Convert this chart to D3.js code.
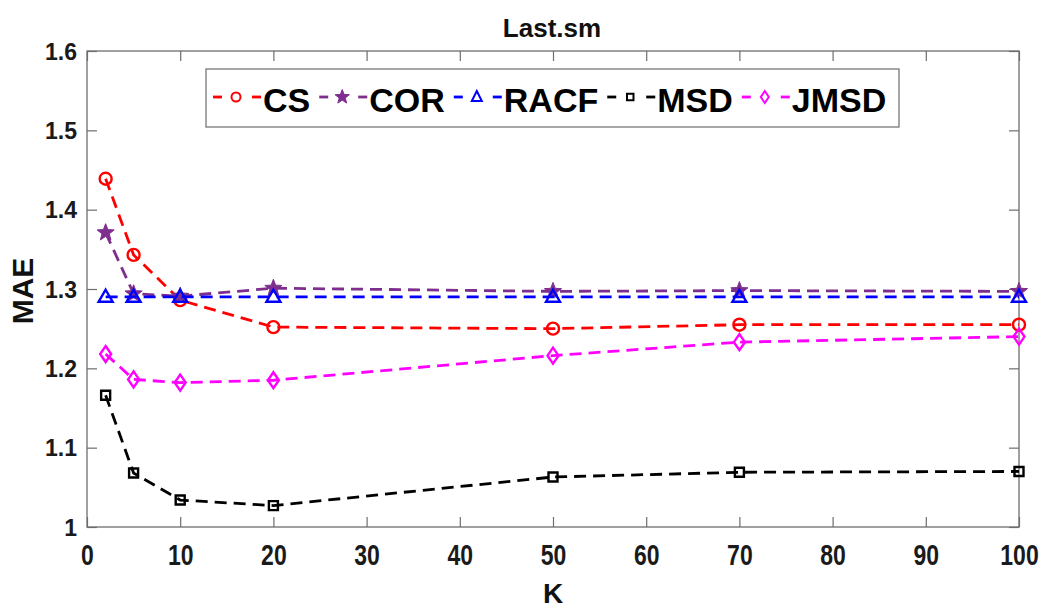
<!DOCTYPE html>
<html><head><meta charset="utf-8">
<script src="https://cdn.jsdelivr.net/npm/d3@7"></script>
<style>body{margin:0;background:#fff;} svg{display:block;}</style>
</head><body>
<svg id="c" width="1042" height="611"></svg>
<script>
const kValues = [2, 5, 10, 20, 50, 70, 100];
const csValues   = [1.439, 1.343, 1.286, 1.252, 1.250, 1.255, 1.255];
const corValues  = [1.371, 1.294, 1.291, 1.301, 1.297, 1.298, 1.297];
const racfValues = [1.290, 1.290, 1.290, 1.290, 1.290, 1.290, 1.290];
const msdValues  = [1.166, 1.068, 1.034, 1.027, 1.063, 1.069, 1.070];
const jmsdValues = [1.218, 1.186, 1.182, 1.185, 1.216, 1.233, 1.240];
const seriesNames = ["CS", "COR", "RACF", "MSD", "JMSD"];
const xTicks = [0,10,20,30,40,50,60,70,80,90,100];
const yTicks = [1,1.1,1.2,1.3,1.4,1.5,1.6];
const titleText = "Last.sm", xLabel = "K", yLabel = "MAE";

const series = [
  {name: seriesNames[0], values: csValues,   color: "#FF0000", marker: "circle"},
  {name: seriesNames[1], values: corValues,  color: "#7E2F8E", marker: "star"},
  {name: seriesNames[2], values: racfValues, color: "#0000FF", marker: "triangle"},
  {name: seriesNames[3], values: msdValues,  color: "#000000", marker: "square"},
  {name: seriesNames[4], values: jmsdValues, color: "#FF00FF", marker: "diamond"}
];

const svg = d3.select("#c");
const L = 87, R = 1019, T = 51, B = 527;
const x = d3.scaleLinear().domain([0, 100]).range([L, R]);
const y = d3.scaleLinear().domain([1, 1.6]).range([B, T]);
const font = "'Liberation Sans', Arial, Helvetica, sans-serif";
const axisColor = "#6e6e6e";

function styleAxis(g){ g.select(".domain").remove(); g.selectAll("line").attr("stroke", axisColor).attr("stroke-width",1.2); }
svg.append("g").attr("transform",`translate(0,${B})`)
  .call(d3.axisBottom(x).tickValues(xTicks).tickSize(-10).tickFormat(d3.format("d")))
  .call(styleAxis)
  .call(g => g.selectAll("text").attr("y",0).attr("dy",null)
     .attr("transform","translate(0,30) scale(1,1.25)")
     .attr("dominant-baseline","middle")
     .attr("font-family",font).attr("font-weight","bold").attr("font-size",23).attr("fill","#1a1a1a"));
svg.append("g").attr("transform",`translate(0,${T})`)
  .call(d3.axisTop(x).tickValues(xTicks).tickSize(-10).tickFormat(""))
  .call(styleAxis);
svg.append("g").attr("transform",`translate(${L},0)`)
  .call(d3.axisLeft(y).tickValues(yTicks).tickSize(-10).tickFormat(d => d3.format("")(+d.toFixed(1))))
  .call(styleAxis)
  .call(g => g.selectAll("text").attr("x",-10).attr("dy","0.36em")
     .attr("font-family",font).attr("font-weight","bold").attr("font-size",23).attr("fill","#1a1a1a"));
svg.append("g").attr("transform",`translate(${R},0)`)
  .call(d3.axisRight(y).tickValues(yTicks).tickSize(-10).tickFormat(""))
  .call(styleAxis);
svg.append("rect").attr("x",L).attr("y",T).attr("width",R-L).attr("height",B-T)
  .attr("fill","none").attr("stroke",axisColor).attr("stroke-width",1.3);

svg.append("text").attr("x",552).attr("y",37).attr("text-anchor","middle")
  .attr("font-family",font).attr("font-weight","bold").attr("font-size",26).attr("fill","#111").text(titleText);
svg.append("text").attr("x",553).attr("y",603).attr("text-anchor","middle")
  .attr("font-family",font).attr("font-weight","bold").attr("font-size",28).attr("fill","#111").text(xLabel);
svg.append("text").attr("transform","translate(33,291) rotate(-90)").attr("text-anchor","middle")
  .attr("font-family",font).attr("font-weight","bold").attr("font-size",30).attr("fill","#111").text(yLabel);

function markerPath(type, s){
  const p = d3.path();
  if(type==="circle"){ p.arc(0,0,s.r,0,2*Math.PI); }
  else if(type==="star"){
    for(let i=0;i<10;i++){ const rr = i%2===0 ? s.R : s.R*0.42; const a = -Math.PI/2 + i*Math.PI/5;
      const px = rr*Math.cos(a), py = rr*Math.sin(a); i===0?p.moveTo(px,py):p.lineTo(px,py); }
    p.closePath();
  } else if(type==="triangle"){ p.moveTo(0,-s.h*0.6); p.lineTo(s.w/2,s.h*0.4); p.lineTo(-s.w/2,s.h*0.4); p.closePath(); }
  else if(type==="square"){ p.rect(-s.a/2,-s.a/2,s.a,s.a); }
  else if(type==="diamond"){ p.moveTo(0,-s.h/2); p.lineTo(s.w/2,0); p.lineTo(0,s.h/2); p.lineTo(-s.w/2,0); p.closePath(); }
  return p.toString();
}
const bigSize = {circle:{r:6}, star:{R:9}, triangle:{w:14,h:12}, square:{a:9}, diamond:{w:11,h:16}};
const smallSize = {circle:{r:4.5}, star:{R:7.5}, triangle:{w:10,h:10}, square:{a:6.5}, diamond:{w:8,h:12}};

function drawMarker(g, type, color, size, sw){
  g.append("path").attr("d", markerPath(type,size))
    .attr("fill", type==="star" ? color : "none")
    .attr("stroke", color).attr("stroke-width", type==="star"?1:sw).attr("stroke-linejoin","miter");
}

const line = d3.line().x(d => x(d[0])).y(d => y(d[1]));
series.forEach(s => {
  const pts = kValues.map((k,i) => [k, s.values[i]]);
  svg.append("path").attr("d", line(pts)).attr("fill","none").attr("stroke", s.color)
    .attr("stroke-width",2.8).attr("stroke-dasharray","12,7");
  pts.forEach(p => {
    const g = svg.append("g").attr("transform",`translate(${x(p[0])},${y(p[1])})`);
    drawMarker(g, s.marker, s.color, bigSize[s.marker], 2.4);
  });
});

const leg = svg.append("g");
leg.append("rect").attr("x",206).attr("y",69).attr("width",693).attr("height",58)
  .attr("fill","#fff").attr("stroke","#777").attr("stroke-width",1.3);
let cx = 213;
series.forEach(s => {
  leg.append("line").attr("x1",cx).attr("x2",cx+9).attr("y1",97).attr("y2",97).attr("stroke",s.color).attr("stroke-width",2.8);
  leg.append("line").attr("x1",cx+39).attr("x2",cx+48).attr("y1",97).attr("y2",97).attr("stroke",s.color).attr("stroke-width",2.8);
  const g = leg.append("g").attr("transform",`translate(${cx+23},97)`);
  drawMarker(g, s.marker, s.color, smallSize[s.marker], 2);
  const t = leg.append("text").attr("x",cx+50).attr("y",112).attr("font-family",font).attr("font-weight","bold")
    .attr("font-size",34).attr("fill","#000").text(s.name);
  cx = cx + 50 + t.node().getComputedTextLength() + 9;
});
</script>
</body></html>
